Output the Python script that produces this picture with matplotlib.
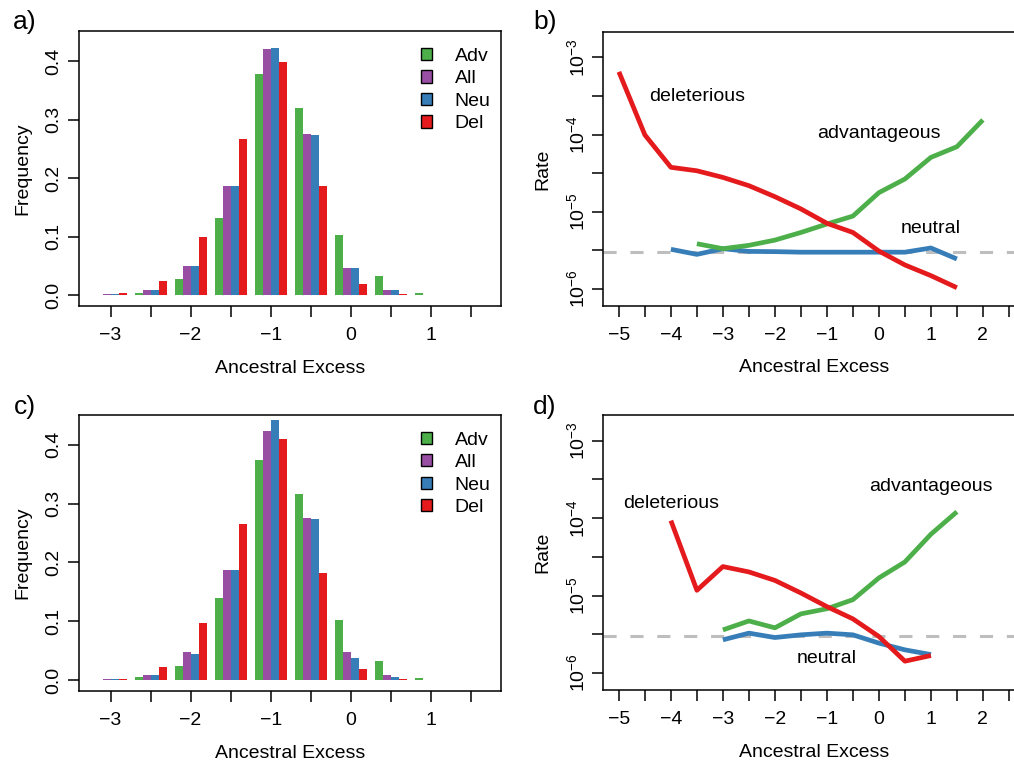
import numpy as np
import matplotlib
matplotlib.use("Agg")
import matplotlib.pyplot as plt
from matplotlib.patches import Patch
from matplotlib.ticker import NullLocator

plt.rcParams['font.family'] = ['Liberation Sans', 'DejaVu Sans']
plt.rcParams['mathtext.fontset'] = 'custom'
plt.rcParams['mathtext.rm'] = 'Liberation Sans'
plt.rcParams['mathtext.it'] = 'Liberation Sans:italic'
plt.rcParams['mathtext.bf'] = 'Liberation Sans:bold'

# colours (ColorBrewer Set1)
GREEN = '#4DAF4A'
PURPLE = '#984EA3'
BLUE = '#377EB8'
RED = '#E41A1C'

# ---- histogram data (panels a, c) ----
bins = [-3, -2.5, -2, -1.5, -1, -0.5, 0, 0.5, 1, 1.5]
series_names = ['Adv', 'All', 'Neu', 'Del']

a_adv = [0.0003, 0.003, 0.027, 0.131, 0.377, 0.319, 0.103, 0.032, 0.003, 0.0003]
a_all = [0.001, 0.008, 0.049, 0.187, 0.421, 0.275, 0.046, 0.009, 0.0005, 0.0003]
a_neu = [0.001, 0.008, 0.049, 0.187, 0.423, 0.274, 0.046, 0.009, 0.0005, 0.0003]
a_del = [0.003, 0.024, 0.099, 0.266, 0.398, 0.186, 0.018, 0.002, 0.0002, 0.0002]

c_adv = [0.0003, 0.005, 0.024, 0.140, 0.374, 0.316, 0.102, 0.032, 0.004, 0.0003]
c_all = [0.001, 0.0085, 0.048, 0.187, 0.423, 0.275, 0.047, 0.0085, 0.0005, 0.0003]
c_neu = [0.001, 0.0085, 0.044, 0.187, 0.442, 0.274, 0.037, 0.0057, 0.0005, 0.0003]
c_del = [0.002, 0.022, 0.097, 0.265, 0.410, 0.182, 0.019, 0.002, 0.0003, 0.0002]

# ---- rate data (panels b, d) ----
b_del_x = [-5, -4.5, -4, -3.5, -3, -2.5, -2, -1.5, -1, -0.5, 0, 0.5, 1, 1.5]
b_del_y = [6.5e-4, 9.9e-5, 3.77e-5, 3.4e-5, 2.79e-5, 2.18e-5, 1.57e-5, 1.09e-5,
           7.1e-6, 5.4e-6, 3.1e-6, 2.05e-6, 1.49e-6, 1.04e-6]
b_adv_x = [-3.5, -3, -2.5, -2, -1.5, -1, -0.5, 0, 0.5, 1, 1.5, 2]
b_adv_y = [3.86e-6, 3.33e-6, 3.68e-6, 4.3e-6, 5.4e-6, 6.95e-6, 8.8e-6, 1.77e-5,
           2.66e-5, 5.07e-5, 6.97e-5, 1.55e-4]
b_neu_x = [-4, -3.5, -3, -2.5, -2, -1.5, -1, -0.5, 0, 0.5, 1, 1.5]
b_neu_y = [3.27e-6, 2.81e-6, 3.33e-6, 3.07e-6, 3.05e-6, 3.0e-6, 3.0e-6, 3.0e-6,
           3.0e-6, 3.0e-6, 3.4e-6, 2.45e-6]

d_del_x = [-4, -3.5, -3, -2.5, -2, -1.5, -1, -0.5, 0, 0.5, 1]
d_del_y = [9.3e-5, 1.17e-5, 2.37e-5, 2.02e-5, 1.57e-5, 1.08e-5, 7.2e-6, 5.0e-6,
           2.96e-6, 1.42e-6, 1.68e-6]
d_adv_x = [-3, -2.5, -2, -1.5, -1, -0.5, 0, 0.5, 1, 1.5]
d_adv_y = [3.6e-6, 4.7e-6, 3.83e-6, 5.8e-6, 6.76e-6, 8.85e-6, 1.69e-5, 2.72e-5,
           6.2e-5, 1.21e-4]
d_neu_x = [-3, -2.5, -2, -1.5, -1, -0.5, 0, 0.5, 1]
d_neu_y = [2.68e-6, 3.27e-6, 2.87e-6, 3.11e-6, 3.27e-6, 3.11e-6, 2.43e-6, 1.99e-6,
           1.73e-6]

neutral_rate = 3.0e-6

FS = 14
W, H = 1014, 764
fig = plt.figure(figsize=(W / 100, H / 100), dpi=100)


def px_axes(left, top, right, bottom):
    return fig.add_axes([left / W, 1 - bottom / H, (right - left) / W, (bottom - top) / H])


def style(ax):
    for s in ax.spines.values():
        s.set_linewidth(1.1)
    ax.tick_params(length=8, width=1.1, labelsize=FS)
    ax.tick_params(axis='x', pad=7)
    ax.tick_params(axis='y', pad=4)


def fmt(t):
    if t != int(t):
        return ''
    return '\u2212%d' % -t if t < 0 else '%d' % t


def hist_panel(ax, vals):
    x = np.array(bins)
    w = 0.1
    cols = [GREEN, PURPLE, BLUE, RED]
    for i, (v, c) in enumerate(zip(vals, cols)):
        ax.bar(x + (i - 1.5) * w, v, width=w, color=c, edgecolor='none')
    ax.set_xlim(-3.39, 1.88)
    ax.set_ylim(-0.0188, 0.4508)
    ax.set_xticks(x)
    ax.set_xticklabels([fmt(t) for t in x])
    ax.set_yticks([0, 0.1, 0.2, 0.3, 0.4])
    ax.set_yticklabels(['0.0', '0.1', '0.2', '0.3', '0.4'])
    style(ax)
    for lab in ax.get_yticklabels():
        lab.set_rotation(90)
        lab.set_va('center')
    ax.set_xlabel('Ancestral Excess', fontsize=FS, va='center')
    ax.xaxis.set_label_coords(0.5, -0.226)
    ax.set_ylabel('Frequency', fontsize=FS, va='center')
    ax.yaxis.set_label_coords(-0.1334, 0.5)
    handles = [Patch(facecolor=c, edgecolor='black', linewidth=1) for c in cols]
    ax.legend(handles, series_names, loc='upper left', bbox_to_anchor=(0.809, 0.94),
              frameon=False, fontsize=FS, handlelength=0.6, handleheight=0.6,
              handletextpad=1.15, labelspacing=0.28, borderpad=0, borderaxespad=0)


def rate_panel(ax, dx, dy, ax_, ay, nx, ny, labels):
    ax.set_yscale('log')
    ax.axhline(neutral_rate, color='#BEBEBE', lw=2.2, dashes=(4.3, 4.5), zorder=1)
    ax.plot(nx, ny, color=BLUE, lw=3.4, solid_capstyle='butt', zorder=2)
    ax.plot(ax_, ay, color=GREEN, lw=3.4, solid_capstyle='butt', zorder=3)
    ax.plot(dx, dy, color=RED, lw=3.4, solid_capstyle='butt', zorder=4)
    ax.set_xlim(-5.3, 2.8)
    ax.set_ylim(10 ** -6.22, 10 ** -2.667)
    xt = np.arange(-5, 2.51, 0.5)
    ax.set_xticks(xt)
    ax.set_xticklabels([fmt(t) for t in xt])
    yt = np.arange(-6, -2.9, 0.5)
    ax.set_yticks(10 ** yt)
    ax.set_yticklabels([r'$10^{-%d}$' % -e if e == int(e) else '' for e in yt])
    ax.yaxis.set_minor_locator(NullLocator())
    style(ax)
    ax.tick_params(axis='y', pad=3)
    for lab in ax.get_yticklabels():
        lab.set_rotation(90)
        lab.set_va('center')
    ax.set_xlabel('Ancestral Excess', fontsize=FS, va='center')
    ax.xaxis.set_label_coords(0.5, -0.226)
    ax.set_ylabel('Rate', fontsize=FS, va='center')
    ax.yaxis.set_label_coords(-0.143, 0.5)
    for txt, x, y in labels:
        ax.text(x, y, txt, fontsize=FS, ha='center', va='center')


ax_a = px_axes(79.3, 31.3, 501.3, 306)
hist_panel(ax_a, [a_adv, a_all, a_neu, a_del])

ax_c = px_axes(79.3, 415, 501.3, 691)
hist_panel(ax_c, [c_adv, c_all, c_neu, c_del])

ax_b = px_axes(603.3, 31.7, 1024.5, 306)
rate_panel(ax_b, b_del_x, b_del_y, b_adv_x, b_adv_y, b_neu_x, b_neu_y,
           [('deleterious', -3.5, 3.1e-4), ('advantageous', 0.0, 1.04e-4),
            ('neutral', 1.0, 6.1e-6)])

ax_d = px_axes(603.3, 415, 1024.5, 690)
rate_panel(ax_d, d_del_x, d_del_y, d_adv_x, d_adv_y, d_neu_x, d_neu_y,
           [('deleterious', -4.0, 1.56e-4), ('advantageous', 1.0, 2.6e-4),
            ('neutral', -1.0, 1.52e-6)])

for lab, x, y in [('a)', 25, 22), ('b)', 545, 22), ('c)', 25, 407), ('d)', 545, 407)]:
    fig.text(x / W, 1 - y / H, lab, fontsize=19, ha='center', va='center')

fig.savefig('out.png', dpi=100)
